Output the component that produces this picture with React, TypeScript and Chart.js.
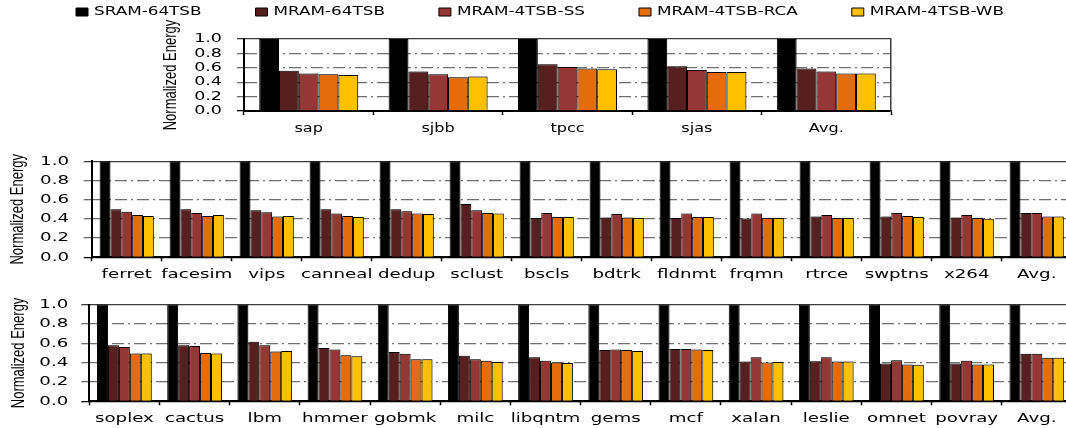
import React, { useEffect, useRef } from 'react';
import { Chart, registerables } from 'chart.js';

Chart.register(...registerables);

// ---------- data ----------
const seriesNames = ['SRAM-64TSB', 'MRAM-64TSB', 'MRAM-4TSB-SS', 'MRAM-4TSB-RCA', 'MRAM-4TSB-WB'];
const seriesColors = ['#000000', '#581F20', '#953735', '#E46C0A', '#FFC000'];

const topCategories = ['sap', 'sjbb', 'tpcc', 'sjas', 'Avg.'];
const topSram64 = [1, 1, 1, 1, 1];
const topMram64 = [0.56, 0.55, 0.65, 0.62, 0.59];
const topMramSS = [0.52, 0.51, 0.61, 0.57, 0.55];
const topMramRCA = [0.51, 0.47, 0.59, 0.54, 0.52];
const topMramWB = [0.50, 0.48, 0.58, 0.54, 0.52];

const midCategories = ['ferret', 'facesim', 'vips', 'canneal', 'dedup', 'sclust', 'bscls', 'bdtrk', 'fldnmt', 'frqmn', 'rtrce', 'swptns', 'x264', 'Avg.'];
const midSram64 = [1, 1, 1, 1, 1, 1, 1, 1, 1, 1, 1, 1, 1, 1];
const midMram64 = [0.50, 0.50, 0.49, 0.50, 0.50, 0.555, 0.41, 0.415, 0.41, 0.405, 0.425, 0.425, 0.415, 0.46];
const midMramSS = [0.475, 0.46, 0.47, 0.455, 0.48, 0.49, 0.46, 0.45, 0.455, 0.455, 0.44, 0.46, 0.44, 0.46];
const midMramRCA = [0.44, 0.43, 0.425, 0.43, 0.455, 0.46, 0.42, 0.415, 0.42, 0.41, 0.41, 0.43, 0.41, 0.425];
const midMramWB = [0.43, 0.44, 0.43, 0.42, 0.45, 0.455, 0.42, 0.41, 0.42, 0.41, 0.41, 0.42, 0.40, 0.425];

const botCategories = ['soplex', 'cactus', 'lbm', 'hmmer', 'gobmk', 'milc', 'libqntm', 'gems', 'mcf', 'xalan', 'leslie', 'omnet', 'povray', 'Avg.'];
const botSram64 = [1, 1, 1, 1, 1, 1, 1, 1, 1, 1, 1, 1, 1, 1];
const botMram64 = [0.58, 0.58, 0.615, 0.55, 0.51, 0.47, 0.455, 0.53, 0.54, 0.41, 0.415, 0.39, 0.39, 0.49];
const botMramSS = [0.56, 0.57, 0.58, 0.535, 0.49, 0.435, 0.42, 0.535, 0.54, 0.455, 0.455, 0.425, 0.42, 0.49];
const botMramRCA = [0.495, 0.50, 0.515, 0.475, 0.435, 0.42, 0.40, 0.53, 0.535, 0.40, 0.41, 0.38, 0.38, 0.45];
const botMramWB = [0.495, 0.495, 0.52, 0.465, 0.435, 0.405, 0.395, 0.52, 0.53, 0.405, 0.41, 0.377, 0.38, 0.45];

const yAxisTitle = 'Normalized Energy';
const yMin = 0;
const yMax = 1;
const yStep = 0.2;

// ---------- helpers ----------
const SX = 1.4; // horizontal text stretch to mimic the reference's wide lettering

function stretchContext(ctx: CanvasRenderingContext2D, sx: number) {
  const anyCtx = ctx as any;
  if (anyCtx.__stretched) return;
  anyCtx.__stretched = true;
  const fill = ctx.fillText.bind(ctx);
  const measure = ctx.measureText.bind(ctx);
  anyCtx.fillText = (text: string, x: number, y: number, maxWidth?: number) => {
    const t = ctx.getTransform();
    const px = t.a * x + t.c * y + t.e;
    const vertical = Math.abs(t.b) > Math.abs(t.a);
    ctx.save();
    const m = new DOMMatrix([sx, 0, 0, 1, px * (1 - sx), 0]).multiply(t);
    ctx.setTransform(m);
    if (vertical || maxWidth === undefined || maxWidth === null) fill(text, x, y);
    else fill(text, x, y, maxWidth / sx);
    ctx.restore();
  };
  anyCtx.measureText = (text: string) => {
    const r = measure(text);
    return {
      width: r.width * sx,
      actualBoundingBoxLeft: r.actualBoundingBoxLeft * sx,
      actualBoundingBoxRight: r.actualBoundingBoxRight * sx,
      actualBoundingBoxAscent: r.actualBoundingBoxAscent,
      actualBoundingBoxDescent: r.actualBoundingBoxDescent,
      fontBoundingBoxAscent: r.fontBoundingBoxAscent,
      fontBoundingBoxDescent: r.fontBoundingBoxDescent,
    };
  };
}

function makeDatasets(values: number[][]) {
  return values.map((d, i) => ({
    label: seriesNames[i],
    data: d,
    backgroundColor: seriesColors[i],
    borderColor: '#000000',
    borderWidth: 1,
  }));
}

const tickVal = (c: any) => (c && c.tick ? c.tick.value : undefined);
const isEnd = (v: number | undefined) => v !== undefined && (v < 1e-6 || v > 1 - 1e-6);

function gridColor(c: any) {
  const v = tickVal(c);
  if (v === undefined) return '#6e6e6e';
  if (v < 1e-6) return '#000000';
  if (v > 1 - 1e-6) return '#3c3c3c';
  return '#707070';
}
function gridDash(c: any) {
  const v = tickVal(c);
  if (v === undefined || isEnd(v)) return [];
  return [12, 4, 2, 4];
}

const shadowPlugin = {
  id: 'barShadow',
  beforeDatasetsDraw(chart: any) {
    const c = chart.ctx;
    c.save();
    c.shadowColor = 'rgba(0,0,0,0.25)';
    c.shadowBlur = 1.5;
    c.shadowOffsetX = 1.5;
    c.shadowOffsetY = -1;
  },
  afterDatasetsDraw(chart: any) {
    chart.ctx.restore();
  },
};

interface PanelOpts {
  categories: string[];
  values: number[][];
  legend: boolean;
  padding: { left: number; right: number; top: number; bottom: number };
  yWidth: number;
  xHeight: number;
  tickFont: number;
  labelFont: number;
  yTickPad: number;
  yTickLen: number;
  xLabelPad: number;
  titlePad: number;
  catPct: number;
  rightSpacer?: number;
}

function makeConfig(o: PanelOpts): any {
  const scales: any = {
    x: {
      afterFit: (s: any) => { s.height = o.xHeight; },
      ticks: {
        autoSkip: false,
        maxRotation: 0,
        minRotation: 0,
        padding: o.xLabelPad,
        color: '#000000',
        font: { family: 'DejaVu Sans', size: o.labelFont },
      },
      grid: {
        display: true,
        drawOnChartArea: false,
        drawTicks: true,
        tickLength: 4,
        tickColor: '#000000',
        tickWidth: 1.5,
        color: '#000000',
      },
      border: { display: true, color: '#000000', width: 2 },
    },
    y: {
      min: yMin,
      max: yMax,
      afterFit: (s: any) => { s.width = o.yWidth; },
      ticks: {
        stepSize: yStep,
        autoSkip: false,
        padding: o.yTickPad,
        color: '#000000',
        font: { family: 'DejaVu Sans', size: o.tickFont, lineHeight: 1 },
        callback: (v: any) => Number(v).toFixed(1),
      },
      grid: {
        color: gridColor,
        lineWidth: 1.3,
        drawTicks: true,
        tickLength: o.yTickLen,
        tickColor: gridColor,
        tickWidth: 1.3,
      },
      border: { display: true, color: '#000000', width: 2, dash: gridDash },
      title: {
        display: true,
        text: yAxisTitle,
        color: '#000000',
        font: { family: 'Liberation Sans', size: 13 },
        padding: { top: o.titlePad, bottom: 0 },
      },
    },
  };
  if (o.rightSpacer !== undefined) {
    scales.y2 = {
      position: 'right',
      min: yMin,
      max: yMax,
      afterFit: (s: any) => { s.width = o.rightSpacer; },
      ticks: { display: false },
      grid: { display: false, drawTicks: false },
      border: { display: true, color: '#3c3c3c', width: 1.5 },
    };
  }
  return {
    type: 'bar',
    data: { labels: o.categories, datasets: makeDatasets(o.values) },
    options: {
      responsive: false,
      maintainAspectRatio: false,
      animation: false,
      events: [],
      layout: { padding: o.padding },
      datasets: { bar: { categoryPercentage: o.catPct, barPercentage: 1 } },
      plugins: {
        legend: o.legend
          ? {
              display: true,
              position: 'top',
              labels: {
                boxWidth: 12,
                boxHeight: 8,
                padding: 54,
                color: '#000000',
                font: { family: 'DejaVu Sans', size: 12 },
              },
            }
          : { display: false },
        subtitle: o.legend
          ? {
              display: true,
              text: ' ',
              position: 'top',
              weight: 500,
              font: { size: 1, lineHeight: 1 },
              padding: { top: 5, bottom: 5 },
            }
          : { display: false },
        title: { display: false },
        tooltip: { enabled: false },
      },
      scales,
    },
    plugins: [shadowPlugin],
  };
}

function Panel(props: { opts: PanelOpts; left: number; top: number; width: number; height: number }) {
  const ref = useRef<HTMLCanvasElement | null>(null);
  useEffect(() => {
    const canvas = ref.current;
    if (!canvas) return;
    const ctx = canvas.getContext('2d');
    if (!ctx) return;
    stretchContext(ctx, SX);
    const chart = new Chart(ctx, makeConfig(props.opts));
    return () => chart.destroy();
  }, []);
  return (
    <canvas
      ref={ref}
      width={props.width}
      height={props.height}
      style={{ position: 'absolute', left: props.left, top: props.top, width: props.width, height: props.height }}
    />
  );
}

const topOpts: PanelOpts = {
  categories: topCategories,
  values: [topSram64, topMram64, topMramSS, topMramRCA, topMramWB],
  legend: true,
  padding: { left: 14, right: 0, top: 0, bottom: 0 },
  yWidth: 230,
  xHeight: 34,
  tickFont: 12.5,
  labelFont: 11.5,
  yTickPad: 15,
  yTickLen: 7,
  xLabelPad: 7.5,
  titlePad: 148.7,
  catPct: 0.765,
  rightSpacer: 175,
};

const midOpts: PanelOpts = {
  categories: midCategories,
  values: [midSram64, midMram64, midMramSS, midMramRCA, midMramWB],
  legend: false,
  padding: { left: 0, right: 8.3, top: 14.7, bottom: 0 },
  yWidth: 91.7,
  xHeight: 29.7,
  tickFont: 13,
  labelFont: 13,
  yTickPad: 14.7,
  yTickLen: 8,
  xLabelPad: 5.9,
  titlePad: 9.7,
  catPct: 0.775,
};

const botOpts: PanelOpts = {
  categories: botCategories,
  values: [botSram64, botMram64, botMramSS, botMramRCA, botMramWB],
  legend: false,
  padding: { left: 0, right: 8.1, top: 12.7, bottom: 0 },
  yWidth: 89.3,
  xHeight: 26.7,
  tickFont: 13,
  labelFont: 13,
  yTickPad: 13,
  yTickLen: 8,
  xLabelPad: 5.4,
  titlePad: 11,
  catPct: 0.78,
};

export default function App() {
  return (
    <div
      style={{
        position: 'fixed',
        left: 0,
        top: 0,
        width: 1066,
        height: 428,
        overflow: 'hidden',
        background: '#ffffff',
      }}
    >
      <Panel opts={topOpts} left={0} top={-48} width={1066} height={193} />
      <Panel opts={midOpts} left={0} top={140} width={1080} height={147} />
      <Panel opts={botOpts} left={0} top={285} width={1080} height={143} />
    </div>
  );
}
